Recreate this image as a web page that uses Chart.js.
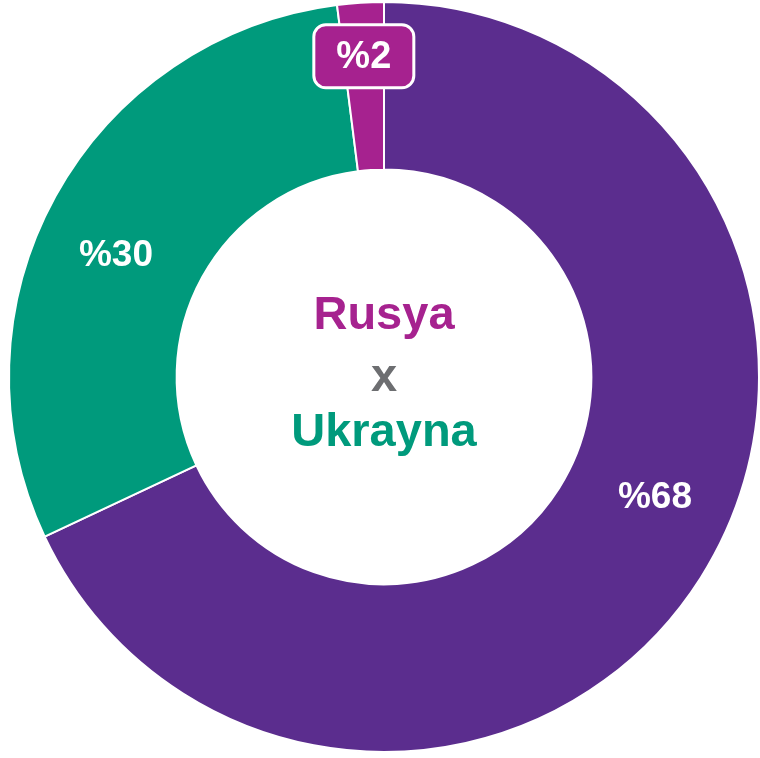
<!DOCTYPE html>
<html>
<head>
<meta charset="utf-8">
<script src="https://cdn.jsdelivr.net/npm/chart.js@4"></script>
<style>
  html, body { margin: 0; padding: 0; background: #fff; }
  #wrap { width: 760px; height: 758px; }
</style>
</head>
<body>
<div id="wrap"><canvas id="chart"></canvas></div>
<script>
const categories = ["Rusya", "Ukrayna", "Diğer"];
const shares = [68, 30, 2];
const sliceLabels = ["%68", "%30", "%2"];
const colors = ["#5b2d8e", "#009a7c", "#a6228f"];
const centerLines = ["Rusya", "x", "Ukrayna"];
const centerColors = ["#a6228f", "#6d6e71", "#009a7c"];

// where along each slice (angle fraction, radius fraction of the ring) the label sits
const labelSpot = [[0.465, 0.53], [0.46, 0.52], [0.5, 0.68]];

const labelPlugin = {
  id: "sliceLabels",
  afterDatasetsDraw(chart) {
    const ctx = chart.ctx;
    const arcs = chart.getDatasetMeta(0).data;
    ctx.save();
    ctx.textAlign = "center";
    ctx.textBaseline = "middle";

    arcs.forEach((arc, i) => {
      const { x, y, startAngle, endAngle, innerRadius, outerRadius } = arc.getProps(
        ["x", "y", "startAngle", "endAngle", "innerRadius", "outerRadius"], true);
      const a = startAngle + (endAngle - startAngle) * labelSpot[i][0];
      const r = innerRadius + (outerRadius - innerRadius) * labelSpot[i][1];
      const px = x + Math.cos(a) * r;
      const py = y + Math.sin(a) * r;

      if (i === 2) {
        // small slice gets a boxed label
        const w = 100, h = 63;
        ctx.beginPath();
        ctx.roundRect(px - w / 2, py - h / 2, w, h, 12);
        ctx.fillStyle = colors[i];
        ctx.fill();
        ctx.lineWidth = 3;
        ctx.strokeStyle = "#fff";
        ctx.stroke();
        ctx.font = "bold 38px 'Liberation Sans', Arial, sans-serif";
      } else {
        ctx.font = "bold 37px 'Liberation Sans', Arial, sans-serif";
      }
      ctx.fillStyle = "#fff";
      ctx.fillText(sliceLabels[i], px, py + 1);
    });

    // centre title
    const c = arcs[0];
    ctx.font = "bold 47px 'Liberation Sans', Arial, sans-serif";
    const offsets = [-61, 1, 56];
    centerLines.forEach((t, i) => {
      ctx.fillStyle = centerColors[i];
      ctx.fillText(t, c.x, c.y + offsets[i]);
    });
    ctx.restore();
  }
};

new Chart(document.getElementById("chart"), {
  type: "doughnut",
  data: {
    labels: categories,
    datasets: [{
      data: shares,
      backgroundColor: colors,
      borderColor: "#fff",
      borderWidth: 2
    }]
  },
  options: {
    responsive: true,
    maintainAspectRatio: false,
    animation: false,
    cutout: "55.3%",
    layout: { padding: { left: 8, right: 0, top: 0, bottom: 4 } },
    plugins: {
      legend: { display: false },
      tooltip: { enabled: false }
    }
  },
  plugins: [labelPlugin]
});
</script>
</body>
</html>
